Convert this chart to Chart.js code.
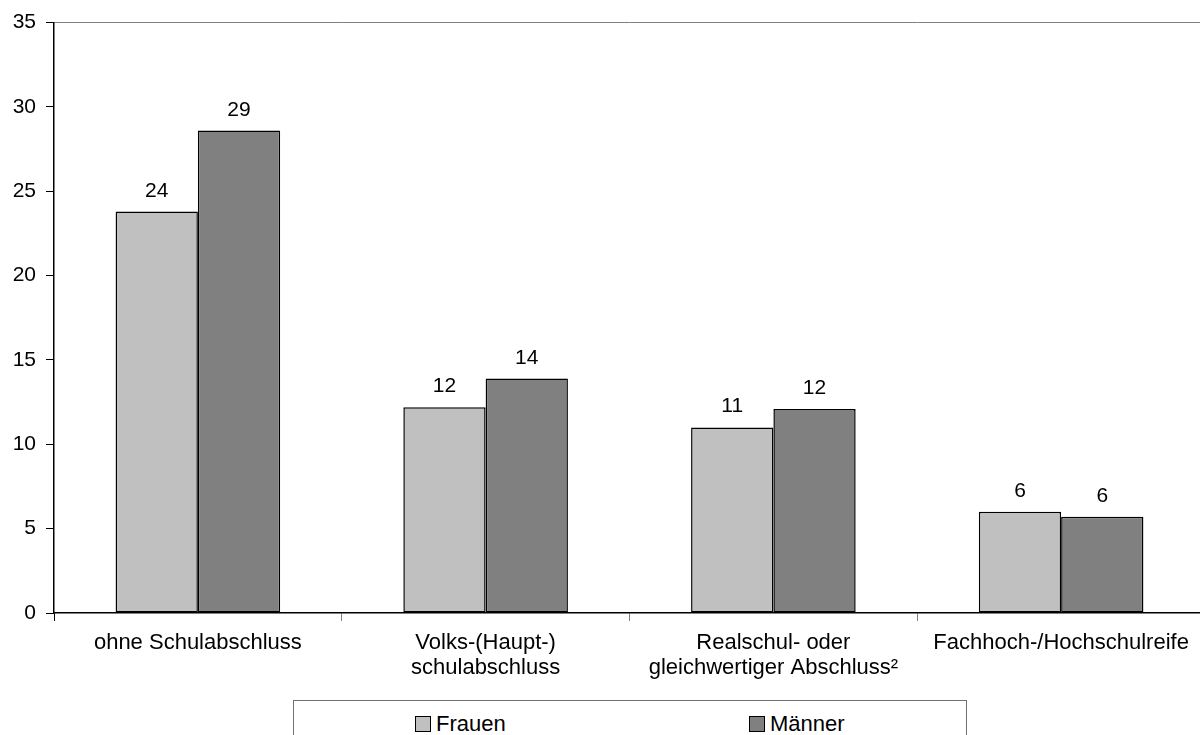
<!DOCTYPE html>
<html>
<head>
<meta charset="utf-8">
<script src="https://cdn.jsdelivr.net/npm/chart.js@4"></script>
<style>
  html, body { margin: 0; padding: 0; background: #fff; overflow: hidden; }
  #wrap { position: relative; width: 1205px; height: 735px; }
  #legend {
    position: absolute; left: 293px; top: 700px; width: 674px; height: 50px;
    border: 1px solid #707070; box-sizing: border-box; background: #fff;
    font: 22px "Liberation Sans", Arial, sans-serif; color: #000;
  }
  .item { position: absolute; top: 10px; display: flex; align-items: center; }
  .sw { width: 14px; height: 14px; border: 1px solid #000; margin-right: 5px; }
</style>
</head>
<body>
<div id="wrap">
  <canvas id="chart" width="1205" height="735"></canvas>
  <div id="legend"></div>
</div>
<script>
const categories = [
  "ohne Schulabschluss",
  ["Volks-(Haupt-)", "schulabschluss"],
  ["Realschul- oder", "gleichwertiger Abschluss²"],
  "Fachhoch-/Hochschulreife"
];
const seriesNames = ["Frauen", "Männer"];
const frauen = [23.8, 12.2, 11.0, 6.0];
const maenner = [28.6, 13.9, 12.1, 5.7];
const colors = ["#c0c0c0", "#808080"];
const yTicks = [0, 5, 10, 15, 20, 25, 30, 35];

const FONT = '"Liberation Sans", Arial, sans-serif';

const valueLabels = {
  id: "valueLabels",
  afterDatasetsDraw(chart) {
    const ctx = chart.ctx;
    ctx.save();
    ctx.font = "21px " + FONT;
    ctx.fillStyle = "#000";
    ctx.textAlign = "center";
    ctx.textBaseline = "alphabetic";
    chart.data.datasets.forEach((ds, i) => {
      chart.getDatasetMeta(i).data.forEach((bar, j) => {
        ctx.fillText(Math.round(ds.data[j]), bar.x, bar.y - 15);
      });
    });
    ctx.restore();
  }
};

new Chart(document.getElementById("chart"), {
  type: "bar",
  data: {
    labels: categories,
    datasets: [
      { label: seriesNames[0], data: frauen, backgroundColor: colors[0] },
      { label: seriesNames[1], data: maenner, backgroundColor: colors[1] }
    ]
  },
  options: {
    responsive: false,
    animation: false,
    layout: { padding: { top: 16, left: 0, right: 0, bottom: 0 } },
    datasets: {
      bar: {
        categoryPercentage: 0.572,
        barPercentage: 1,
        borderColor: "#000",
        borderWidth: 1.5,
        borderSkipped: false
      }
    },
    plugins: {
      legend: { display: false },
      tooltip: { enabled: false }
    },
    scales: {
      x: {
        grid: {
          drawOnChartArea: false,
          tickLength: 8,
          tickColor: (c) => c.index === 0 ? "#000" : "#808080"
        },
        border: { color: "#000", width: 1.5 },
        ticks: {
          color: "#000",
          font: { family: FONT, size: 22, lineHeight: 1.15 },
          padding: 9,
          maxRotation: 0,
          autoSkip: false
        },
        afterFit(scale) { scale.height = 122; }
      },
      y: {
        min: 0,
        max: 35,
        afterBuildTicks(scale) { scale.ticks = yTicks.map(v => ({ value: v })); },
        grid: {
          drawOnChartArea: true,
          tickLength: 8,
          color: (c) => c.tick && c.tick.value === 35 ? "#808080" : "rgba(0,0,0,0)",
          tickColor: "#000"
        },
        border: { color: "#000", width: 1.5 },
        ticks: {
          color: "#000",
          font: { family: FONT, size: 21 },
          padding: 10
        },
        afterFit(scale) { scale.width = 54; }
      }
    }
  },
  plugins: [valueLabels]
});

// legend built from the series names
const legend = document.getElementById("legend");
const itemX = [121, 455];
seriesNames.forEach((name, i) => {
  const item = document.createElement("div");
  item.className = "item";
  item.style.left = itemX[i] + "px";
  const sw = document.createElement("span");
  sw.className = "sw";
  sw.style.background = colors[i];
  item.appendChild(sw);
  item.appendChild(document.createTextNode(name));
  legend.appendChild(item);
});
</script>
</body>
</html>
